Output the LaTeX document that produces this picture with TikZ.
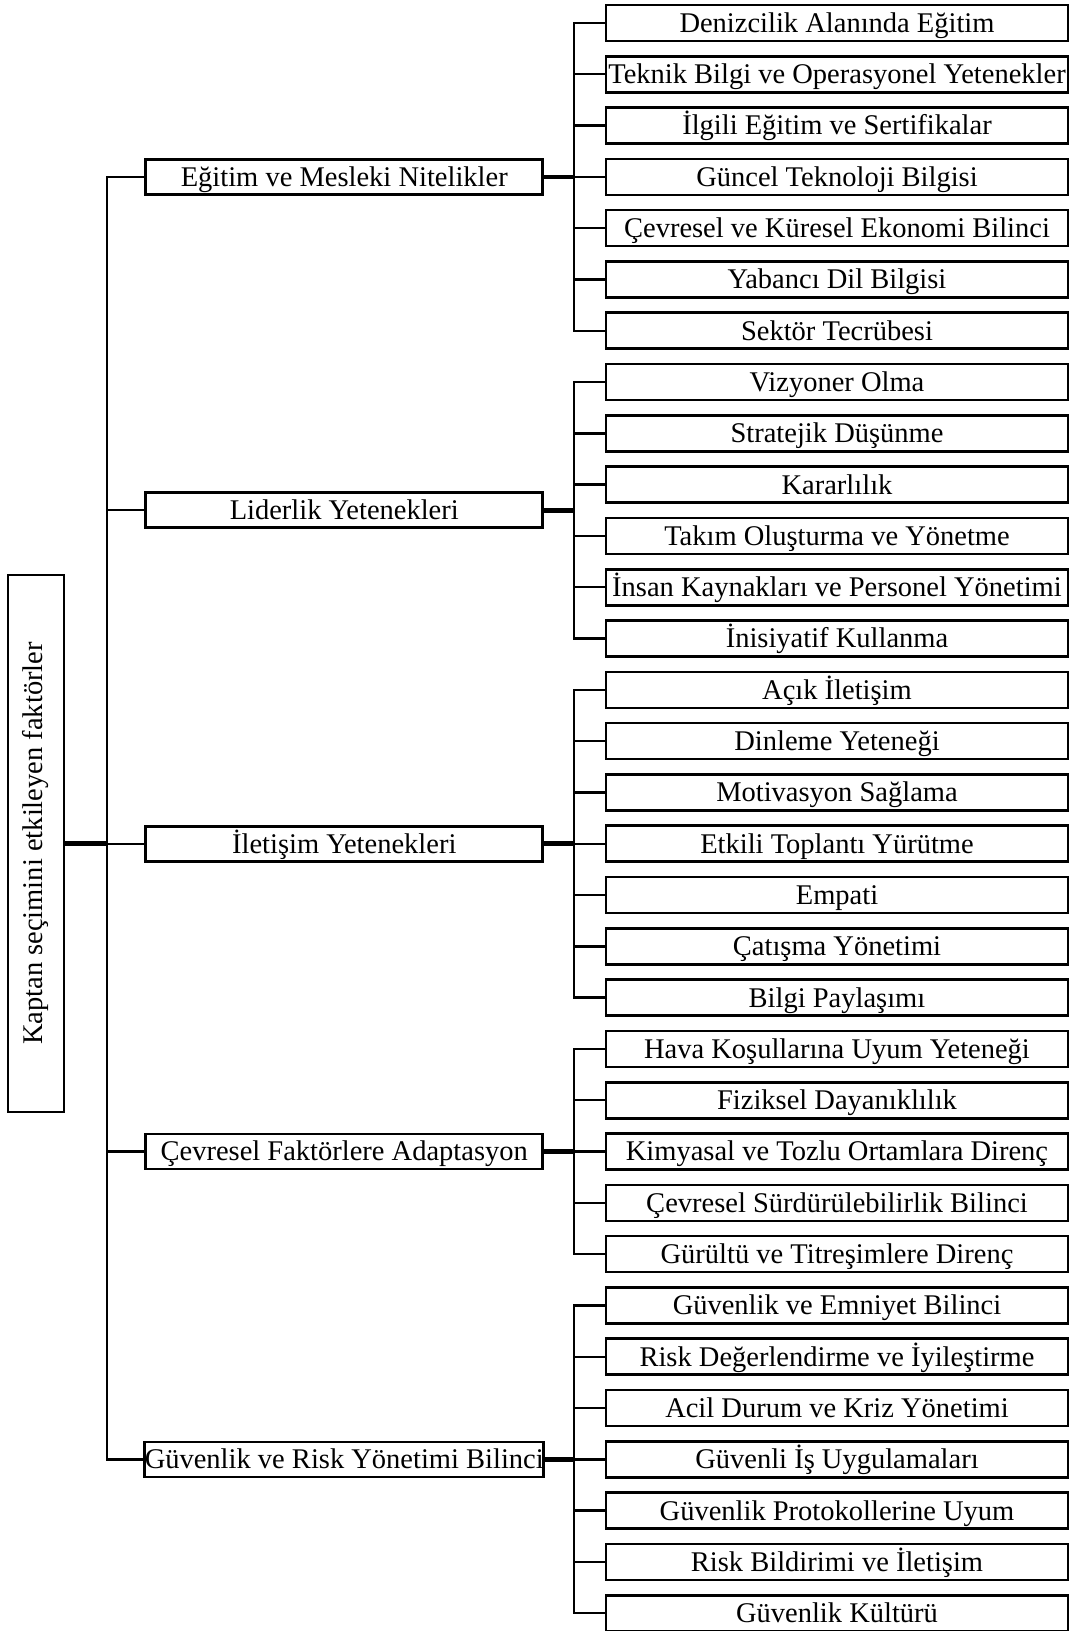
\documentclass[tikz,border=0pt]{standalone}
\usepackage{fontspec}
\setmainfont{Liberation Serif}
\begin{document}
\begin{tikzpicture}[x=1pt, y=-1pt,
            leaf/.style={rectangle, draw, line width=2.6pt, minimum width=462pt, minimum height=36pt, inner sep=0pt, text height=18.8pt, text depth=0pt, font=\fontsize{28.5}{30}\selectfont},
            group/.style={rectangle, draw, line width=2.6pt, minimum width=397pt, minimum height=35pt, inner sep=0pt, text height=18.8pt, text depth=0pt, font=\fontsize{28.5}{30}\selectfont},
            rootbox/.style={rectangle, draw, line width=2.6pt, minimum width=56pt, minimum height=537pt, inner sep=0pt, font=\fontsize{28.5}{30}\selectfont},
            link/.style={line width=2.4pt},
            boldlink/.style={line width=4.6pt}
        ]
            \useasboundingbox (0,0) rectangle (1074,1631);

            % Root
            \node[rootbox] (root) at (36, 843.5) {\rotatebox{90}{Kaptan seçimini etkileyen faktörler}};

            % Groups
            \node[group] (m1) at (344.25, 176.8) {Eğitim ve Mesleki Nitelikler};
            \node[group] (m2) at (344.25, 510.25) {Liderlik Yetenekleri};
            \node[group] (m3) at (344.25, 843.7) {İletişim Yetenekleri};
            \node[group] (m4) at (344.25, 1151.5) {Çevresel Faktörlere Adaptasyon};
            \node[group] (m5) at (344.25, 1459.3) {Güvenlik ve Risk Yönetimi Bilinci};

            % Leaves: Eğitim
            \node[leaf] (l1) at (837, 22.9) {Denizcilik Alanında Eğitim};
            \node[leaf] (l2) at (837, 74.2) {Teknik Bilgi ve Operasyonel Yetenekler};
            \node[leaf] (l3) at (837, 125.5) {İlgili Eğitim ve Sertifikalar};
            \node[leaf] (l4) at (837, 176.8) {Güncel Teknoloji Bilgisi};
            \node[leaf] (l5) at (837, 228.1) {Çevresel ve Küresel Ekonomi Bilinci};
            \node[leaf] (l6) at (837, 279.4) {Yabancı Dil Bilgisi};
            \node[leaf] (l7) at (837, 330.7) {Sektör Tecrübesi};

            % Leaves: Liderlik
            \node[leaf] (l8) at (837, 382.0) {Vizyoner Olma};
            \node[leaf] (l9) at (837, 433.3) {Stratejik Düşünme};
            \node[leaf] (l10) at (837, 484.6) {Kararlılık};
            \node[leaf] (l11) at (837, 535.9) {Takım Oluşturma ve Yönetme};
            \node[leaf] (l12) at (837, 587.2) {İnsan Kaynakları ve Personel Yönetimi};
            \node[leaf] (l13) at (837, 638.5) {İnisiyatif Kullanma};

            % Leaves: İletişim
            \node[leaf] (l14) at (837, 689.8) {Açık İletişim};
            \node[leaf] (l15) at (837, 741.1) {Dinleme Yeteneği};
            \node[leaf] (l16) at (837, 792.4) {Motivasyon Sağlama};
            \node[leaf] (l17) at (837, 843.7) {Etkili Toplantı Yürütme};
            \node[leaf] (l18) at (837, 895.0) {Empati};
            \node[leaf] (l19) at (837, 946.3) {Çatışma Yönetimi};
            \node[leaf] (l20) at (837, 997.6) {Bilgi Paylaşımı};

            % Leaves: Çevresel
            \node[leaf] (l21) at (837, 1048.9) {Hava Koşullarına Uyum Yeteneği};
            \node[leaf] (l22) at (837, 1100.2) {Fiziksel Dayanıklılık};
            \node[leaf] (l23) at (837, 1151.5) {Kimyasal ve Tozlu Ortamlara Direnç};
            \node[leaf] (l24) at (837, 1202.8) {Çevresel Sürdürülebilirlik Bilinci};
            \node[leaf] (l25) at (837, 1254.1) {Gürültü ve Titreşimlere Direnç};

            % Leaves: Güvenlik
            \node[leaf] (l26) at (837, 1305.4) {Güvenlik ve Emniyet Bilinci};
            \node[leaf] (l27) at (837, 1356.7) {Risk Değerlendirme ve İyileştirme};
            \node[leaf] (l28) at (837, 1408.0) {Acil Durum ve Kriz Yönetimi};
            \node[leaf] (l29) at (837, 1459.3) {Güvenli İş Uygulamaları};
            \node[leaf] (l30) at (837, 1510.6) {Güvenlik Protokollerine Uyum};
            \node[leaf] (l31) at (837, 1561.9) {Risk Bildirimi ve İletişim};
            \node[leaf] (l32) at (837, 1613.2) {Güvenlik Kültürü};

            % Trunk
            \coordinate (t) at (107, 843.5);
            \draw[boldlink] (root) -- (t);
            \draw[link] (t) |- (m1.west) (t) |- (m2.west) (t) |- (m3.west) (t) |- (m4.west) (t) |- (m5.west);

            % Branches
            \coordinate (b1) at (574, 176.8);
            \coordinate (b2) at (574, 510.25);
            \coordinate (b3) at (574, 843.7);
            \coordinate (b4) at (574, 1151.5);
            \coordinate (b5) at (574, 1459.3);
            \draw[boldlink] (m1) -- (b1);
            \draw[boldlink] (m2) -- (b2);
            \draw[boldlink] (m3) -- (b3);
            \draw[boldlink] (m4) -- (b4);
            \draw[boldlink] (m5) -- (b5);
            \draw[link] (b1) |- (l1.west) (b1) |- (l2.west) (b1) |- (l3.west) (b1) |- (l4.west) (b1) |- (l5.west) (b1) |- (l6.west) (b1) |- (l7.west);
            \draw[link] (b2) |- (l8.west) (b2) |- (l9.west) (b2) |- (l10.west) (b2) |- (l11.west) (b2) |- (l12.west) (b2) |- (l13.west);
            \draw[link] (b3) |- (l14.west) (b3) |- (l15.west) (b3) |- (l16.west) (b3) |- (l17.west) (b3) |- (l18.west) (b3) |- (l19.west) (b3) |- (l20.west);
            \draw[link] (b4) |- (l21.west) (b4) |- (l22.west) (b4) |- (l23.west) (b4) |- (l24.west) (b4) |- (l25.west);
            \draw[link] (b5) |- (l26.west) (b5) |- (l27.west) (b5) |- (l28.west) (b5) |- (l29.west) (b5) |- (l30.west) (b5) |- (l31.west) (b5) |- (l32.west);
        \end{tikzpicture}
\end{document}
